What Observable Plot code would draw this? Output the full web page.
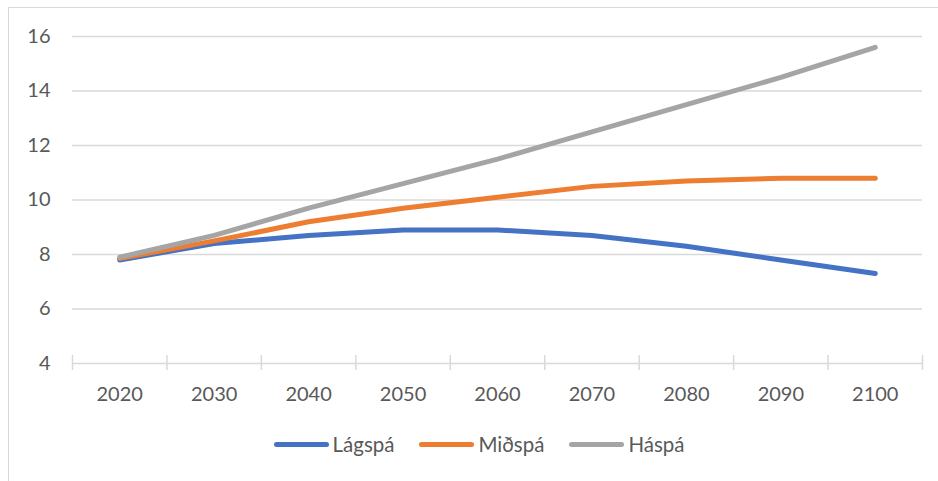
<!DOCTYPE html>
<html>
<head>
<meta charset="utf-8">
<script src="https://cdn.jsdelivr.net/npm/d3@7"></script>
<script src="https://cdn.jsdelivr.net/npm/@observablehq/plot@0.6"></script>
<style>
  html, body { margin: 0; padding: 0; background: #fff; }
  #frame { position: absolute; left: 8px; top: 7px; width: 940px; height: 480px; border: 1.5px solid #d9d9d9; box-sizing: border-box; }
  #chart { position: absolute; left: 0; top: 0; }
  #legend { position: absolute; left: 0; top: 432px; width: 938px; display: flex; justify-content: center; gap: 25px; font-family: Lato, sans-serif; font-size: 20.5px; color: #595959; padding-left: 20px; box-sizing: border-box; }
  .item { display: flex; align-items: center; }
  .sw { display: inline-block; width: 55px; height: 5px; border-radius: 3px; margin-right: 4px; }
</style>
</head>
<body>
<div id="frame"></div>
<div id="chart"></div>
<div id="legend"></div>
<script>
const years = [2020, 2030, 2040, 2050, 2060, 2070, 2080, 2090, 2100];
const seriesNames = ["Lágspá", "Miðspá", "Háspá"];
const lagspa = [7.8, 8.4, 8.7, 8.9, 8.9, 8.7, 8.3, 7.8, 7.3];
const midspa = [7.85, 8.5, 9.2, 9.7, 10.1, 10.5, 10.7, 10.8, 10.8];
const haspa = [7.9, 8.7, 9.7, 10.6, 11.5, 12.5, 13.5, 14.5, 15.6];
const colors = ["#4472C4", "#ED7D31", "#A5A5A5"];
const yTicks = [4, 6, 8, 10, 12, 14, 16];

const seriesValues = [lagspa, midspa, haspa];
const data = [];
seriesNames.forEach((name, i) => {
  years.forEach((yr, j) => data.push({series: name, year: yr, value: seriesValues[i][j]}));
});
const step = years[1] - years[0];
const boundaries = years.map(y => y - step / 2).concat([years[years.length - 1] + step / 2]);

const chart = Plot.plot({
  width: 938,
  height: 420,
  marginTop: 36,
  marginBottom: 57,
  marginLeft: 72,
  marginRight: 16,
  style: {fontFamily: "Lato, sans-serif", fontSize: "20px", color: "#595959", background: "transparent"},
  x: {domain: [boundaries[0], boundaries[boundaries.length - 1]]},
  y: {domain: [yTicks[0], yTicks[yTicks.length - 1]]},
  color: {domain: seriesNames, range: colors},
  marks: [
    Plot.gridY(yTicks, {stroke: "#d9d9d9", strokeOpacity: 1, strokeWidth: 1.5}),
    Plot.axisY(yTicks, {tickSize: 0, tickPadding: 22, fontSize: 20, fill: "#595959", label: null}),
    Plot.axisX(boundaries, {tickSize: 15, dy: -8, tickFormat: () => "", stroke: "#d9d9d9", strokeWidth: 1.5, label: null}),
    Plot.axisX(years, {tickSize: 0, tickPadding: 23, tickFormat: d => String(d), fontSize: 20, fill: "#595959", label: null}),
    Plot.line(data, {x: "year", y: "value", z: "series", stroke: "series", strokeWidth: 5, strokeLinecap: "round", strokeLinejoin: "round"})
  ]
});
document.getElementById("chart").appendChild(chart);

const legend = document.getElementById("legend");
seriesNames.forEach((name, i) => {
  const item = document.createElement("div");
  item.className = "item";
  const sw = document.createElement("span");
  sw.className = "sw";
  sw.style.background = colors[i];
  item.appendChild(sw);
  item.appendChild(document.createTextNode(name));
  legend.appendChild(item);
});
</script>
</body>
</html>
